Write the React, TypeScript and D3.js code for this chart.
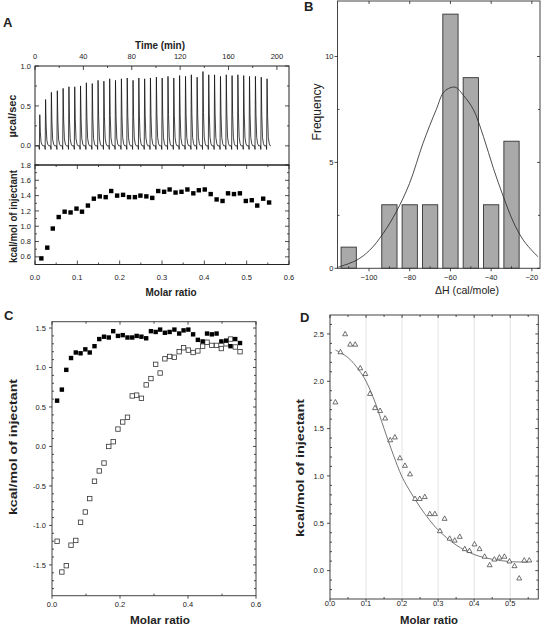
import React from 'react';
import * as d3 from 'd3';

const FONT = "'Liberation Sans', Arial, Helvetica, sans-serif";
const INK = '#222';

// Panel A (top): raw ITC trace
const injectionTimes = [3.6, 8.4, 13.2, 18.1, 22.9, 27.7, 32.5, 37.3, 42.1, 47.0, 51.8, 56.6, 61.4, 66.2, 71.1, 75.9, 80.7, 85.5, 90.3, 95.1, 100.0, 104.8, 109.6, 114.4, 119.2, 124.1, 128.9, 133.7, 138.5, 143.3, 148.1, 153.0, 157.8, 162.6, 167.4, 172.2, 177.0, 181.9, 186.7, 191.5];
const spikePeaks = [0.39, 0.58, 0.67, 0.69, 0.72, 0.74, 0.74, 0.75, 0.79, 0.78, 0.82, 0.81, 0.84, 0.82, 0.84, 0.85, 0.82, 0.85, 0.84, 0.85, 0.86, 0.85, 0.87, 0.85, 0.88, 0.87, 0.89, 0.86, 0.93, 0.89, 0.89, 0.87, 0.89, 0.88, 0.89, 0.88, 0.87, 0.87, 0.86, 0.84];
const timeTicks = [0, 40, 80, 120, 160, 200];
const timeMinor = [20, 60, 100, 140, 180];
const powerTicks = [0.0, 0.5, 1.0];
const powerMinor = [0.25, 0.75];

// Integrated heats
const molarRatio = [0.015, 0.029, 0.042, 0.056, 0.070, 0.084, 0.098, 0.111, 0.125, 0.139, 0.153, 0.167, 0.180, 0.194, 0.208, 0.222, 0.236, 0.249, 0.263, 0.277, 0.291, 0.305, 0.318, 0.332, 0.346, 0.360, 0.374, 0.387, 0.401, 0.415, 0.429, 0.443, 0.456, 0.470, 0.484, 0.498, 0.512, 0.525, 0.539, 0.553];
const heatFilled = [0.58, 0.72, 0.97, 1.12, 1.19, 1.18, 1.23, 1.19, 1.27, 1.36, 1.39, 1.38, 1.46, 1.40, 1.41, 1.38, 1.38, 1.40, 1.39, 1.37, 1.46, 1.45, 1.48, 1.44, 1.45, 1.48, 1.43, 1.47, 1.48, 1.42, 1.35, 1.33, 1.43, 1.42, 1.43, 1.33, 1.34, 1.27, 1.36, 1.31];
const heatOpen = [-1.20, -1.59, -1.51, -1.25, -1.19, -0.96, -0.83, -0.66, -0.44, -0.31, -0.21, 0.00, 0.06, 0.22, 0.31, 0.37, 0.64, 0.65, 0.61, 0.78, 0.86, 1.04, 0.93, 1.11, 1.14, 1.13, 1.20, 1.25, 1.22, 1.19, 1.21, 1.27, 1.32, 1.28, 1.28, 1.24, 1.30, 1.36, 1.26, 1.20];
const heatNet = [1.78, 2.31, 2.50, 2.39, 2.39, 2.14, 2.08, 1.87, 1.72, 1.69, 1.61, 1.38, 1.41, 1.19, 1.11, 1.02, 0.76, 0.76, 0.78, 0.60, 0.60, 0.42, 0.55, 0.34, 0.32, 0.36, 0.23, 0.21, 0.28, 0.23, 0.15, 0.06, 0.12, 0.14, 0.15, 0.10, 0.05, -0.08, 0.11, 0.11];
const fitDx = [0.015, 0.05, 0.08, 0.1, 0.125, 0.15, 0.175, 0.2, 0.225, 0.25, 0.275, 0.3, 0.35, 0.4, 0.45, 0.5, 0.55];
const fitDy = [2.33, 2.25, 2.12, 2.0, 1.78, 1.50, 1.23, 0.99, 0.82, 0.67, 0.54, 0.43, 0.27, 0.17, 0.12, 0.095, 0.09];

const aHeatTicks = [0.6, 0.8, 1.0, 1.2, 1.4, 1.6, 1.8];
const aHeatMinor = [0.7, 0.9, 1.1, 1.3, 1.5, 1.7];
const aRatioTicks = [0, 0.1, 0.2, 0.3, 0.4, 0.5, 0.6];
const aRatioMinor = [0.05, 0.15, 0.25, 0.35, 0.45, 0.55];

// Panel B: histogram
const histCenters = [-110, -90, -80, -70, -60, -50, -40, -30];
const histCounts = [1, 3, 3, 3, 12, 9, 3, 6];
const gaussX = [-115.2, -113.6, -106.2, -99.7, -93.1, -86.6, -80.1, -73.5, -67, -62.9, -57.7, -53.5, -48.7, -43.8, -38.9, -34, -29.1, -24.2, -19.3, -16.9];
const gaussY = [0.05, 0.10, 0.38, 0.85, 1.64, 2.67, 4.01, 5.9, 7.49, 8.36, 8.55, 8.15, 7.49, 6.22, 4.72, 3.38, 2.19, 1.33, 0.77, 0.54];
const dhTicks = [-100, -80, -60, -40, -20];
const dhMinor = [-110, -90, -70, -50, -30];
const freqTicks = [0, 5, 10];
const freqMinor = [2.5, 7.5];

// Panel C / D ticks
const cRatioTicks = [0, 0.2, 0.4, 0.6];
const cRatioMinor = [0.1, 0.3, 0.5];
const cHeatTicks = [-1.5, -1.0, -0.5, 0.0, 0.5, 1.0, 1.5];
const cHeatMinor = [-1.8, -1.7, -1.6, -1.4, -1.3, -1.2, -1.1, -0.9, -0.8, -0.7, -0.6, -0.4, -0.3, -0.2, -0.1, 0.1, 0.2, 0.3, 0.4, 0.6, 0.7, 0.8, 0.9, 1.1, 1.2, 1.3, 1.4];
const dRatioTicks = [0, 0.1, 0.2, 0.3, 0.4, 0.5];
const dRatioMinor = [0.05, 0.15, 0.25, 0.35, 0.45, 0.55];
const dHeatTicks = [0.0, 0.5, 1.0, 1.5, 2.0, 2.5];
const dHeatMinor = [-0.2, -0.1, 0.1, 0.2, 0.3, 0.4, 0.6, 0.7, 0.8, 0.9, 1.1, 1.2, 1.3, 1.4, 1.6, 1.7, 1.8, 1.9, 2.1, 2.2, 2.3, 2.4, 2.6];

type Scale = d3.ScaleLinear<number, number>;

function VTicks({ s, vals, x, len, k }: { s: Scale; vals: number[]; x: number; len: number; k: string }) {
  return (
    <g stroke={INK} strokeWidth={0.8}>
      {vals.map((v, i) => (
        <line key={k + i} x1={x} x2={x + len} y1={s(v)} y2={s(v)} />
      ))}
    </g>
  );
}
function HTicks({ s, vals, y, len, k }: { s: Scale; vals: number[]; y: number; len: number; k: string }) {
  return (
    <g stroke={INK} strokeWidth={0.8}>
      {vals.map((v, i) => (
        <line key={k + i} y1={y} y2={y + len} x1={s(v)} x2={s(v)} />
      ))}
    </g>
  );
}
function VLabels({ s, vals, x, fmt }: { s: Scale; vals: number[]; x: number; fmt: (v: number) => string }) {
  return (
    <g fontSize={7.5} fill={INK} textAnchor="end" fontFamily={FONT}>
      {vals.map((v, i) => (
        <text key={i} x={x} y={s(v)} dy="0.35em">{fmt(v)}</text>
      ))}
    </g>
  );
}
function HLabels({ s, vals, y, fmt }: { s: Scale; vals: number[]; y: number; fmt: (v: number) => string }) {
  return (
    <g fontSize={7.5} fill={INK} textAnchor="middle" fontFamily={FONT}>
      {vals.map((v, i) => (
        <text key={i} x={s(v)} y={y}>{fmt(v)}</text>
      ))}
    </g>
  );
}
function VTitle({ x, y, text, len, size, bold }: { x: number; y: number; text: string; len: number; size: number; bold?: boolean }) {
  return (
    <text transform={`translate(${x},${y}) rotate(-90)`} textAnchor="middle" fontSize={size} fontWeight={bold ? 'bold' : 'normal'} fontFamily={FONT} fill={INK} textLength={len} lengthAdjust="spacingAndGlyphs">{text}</text>
  );
}
function HTitle({ x, y, text, len, size, bold }: { x: number; y: number; text: string; len: number; size: number; bold?: boolean }) {
  return (
    <text x={x} y={y} textAnchor="middle" fontSize={size} fontWeight={bold ? 'bold' : 'normal'} fontFamily={FONT} fill={INK} textLength={len} lengthAdjust="spacingAndGlyphs">{text}</text>
  );
}

const f1 = (v: number) => v.toFixed(1);
const fInt = (v: number) => String(v);
const fMinus = (v: number) => (v < 0 ? '\u2212' + Math.abs(v) : String(v));

export default function App() {
  // Panel A scales
  const xT = d3.scaleLinear().domain([0, 210]).range([35, 289]);
  const yT = d3.scaleLinear().domain([-0.24, 1.0]).range([165, 66]);
  const xA = d3.scaleLinear().domain([0, 0.6]).range([35, 289]);
  const yA = d3.scaleLinear().domain([0.5, 1.8]).range([264.5, 165]);
  // Panel B
  const xB = d3.scaleLinear().domain([-115.5, -16]).range([337.5, 540]);
  const yB = d3.scaleLinear().domain([0, 12.62]).range([268.3, 1]);
  // Panel C
  const xC = d3.scaleLinear().domain([0, 0.6]).range([52, 256]);
  const yC = d3.scaleLinear().domain([-1.89, 1.58]).range([595.7, 321.7]);
  // Panel D
  const xD = d3.scaleLinear().domain([0, 0.578]).range([330, 538.3]);
  const yD = d3.scaleLinear().domain([-0.3, 2.7]).range([599, 315]);

  // raw trace
  const trace: [number, number][] = [[0.5, 0]];
  injectionTimes.forEach((t, i) => {
    const p = spikePeaks[i];
    trace.push([t - 0.3, 0], [t, -0.045], [t + 0.35, p], [t + 0.8, p * 0.45], [t + 1.4, p * 0.12], [t + 2.2, p * 0.03], [t + 3.0, 0]);
  });
  trace.push([195, 0]);
  const traceLine = d3.line<[number, number]>().x(d => xT(d[0])).y(d => yT(d[1]))(trace) || '';

  const gaussLine = d3.line<number>().x((_, i) => xB(gaussX[i])).y(d => yB(d)).curve(d3.curveCatmullRom)(gaussY) || '';
  const fitLine = d3.line<number>().x((_, i) => xD(fitDx[i])).y(d => yD(d)).curve(d3.curveCatmullRom)(fitDy) || '';

  const sq = 4.4;
  const tri = (cx: number, cy: number, r: number) => `M${cx},${cy - r}L${cx + r * 0.95},${cy + r * 0.7}L${cx - r * 0.95},${cy + r * 0.7}Z`;

  const barW = 7.5;

  return (
    <svg width={542} height={626} style={{ display: 'block', position: 'absolute', left: 0, top: 0 }} fontFamily={FONT}>
      <rect x={0} y={0} width={542} height={626} fill="#fff" />

      {/* ---------------- Panel A ---------------- */}
      <text x={3} y={27} fontSize={13} fontWeight="bold" fontFamily={FONT} fill={INK}>A</text>
      <HTitle x={160} y={48.5} text="Time (min)" len={50} size={10} bold />
      <HLabels s={xT} vals={timeTicks} y={59} fmt={fInt} />
      <rect x={35} y={66} width={254} height={99} fill="none" stroke={INK} strokeWidth={1} />
      <HTicks s={xT} vals={timeTicks} y={66} len={4} k="tt" />
      <HTicks s={xT} vals={timeMinor} y={66} len={2} k="tm" />
      <VTicks s={yT} vals={powerTicks} x={35} len={4} k="pl" />
      <VTicks s={yT} vals={powerMinor} x={35} len={2} k="plm" />
      <VTicks s={yT} vals={powerTicks} x={289} len={-4} k="pr" />
      <VTicks s={yT} vals={powerMinor} x={289} len={-2} k="prm" />
      <VLabels s={yT} vals={powerTicks} x={31} fmt={f1} />
      <path d={traceLine} fill="none" stroke="#111" strokeWidth={0.8} />
      <VTitle x={16} y={116} text="µcal/sec" len={43} size={10} bold />

      <rect x={35} y={165} width={254} height={99.5} fill="none" stroke={INK} strokeWidth={1} />
      <VTicks s={yA} vals={aHeatTicks} x={35} len={4} k="al" />
      <VTicks s={yA} vals={aHeatMinor} x={35} len={2} k="alm" />
      <VTicks s={yA} vals={aHeatTicks} x={289} len={-4} k="ar" />
      <VTicks s={yA} vals={aHeatMinor} x={289} len={-2} k="arm" />
      <HTicks s={xA} vals={aRatioTicks} y={264.5} len={-4} k="ab" />
      <HTicks s={xA} vals={aRatioMinor} y={264.5} len={-2} k="abm" />
      <HTicks s={xA} vals={aRatioTicks} y={165} len={4} k="at" />
      <HTicks s={xA} vals={aRatioMinor} y={165} len={2} k="atm" />
      <VLabels s={yA} vals={aHeatTicks} x={31} fmt={f1} />
      <HLabels s={xA} vals={aRatioTicks} y={279.5} fmt={f1} />
      <g fill="#000">
        {heatFilled.map((v, i) => (
          <rect key={i} x={xA(molarRatio[i]) - sq / 2} y={yA(v) - sq / 2} width={sq} height={sq} />
        ))}
      </g>
      <VTitle x={16.5} y={216.5} text="kcal/mol of injectant" len={93} size={10} bold />
      <HTitle x={171} y={295.5} text="Molar  ratio" len={51} size={10} bold />

      {/* ---------------- Panel B ---------------- */}
      <text x={304} y={11} fontSize={13} fontWeight="bold" fontFamily={FONT} fill={INK}>B</text>
      <g>
        {histCounts.map((c, i) => (
          <rect key={i} x={xB(histCenters[i] - barW / 2)} y={yB(c)} width={xB(histCenters[i] + barW / 2) - xB(histCenters[i] - barW / 2)} height={yB(0) - yB(c)} fill="#a9a9a9" stroke="#333" strokeWidth={0.9} />
        ))}
      </g>
      <path d={gaussLine} fill="none" stroke="#222" strokeWidth={0.8} />
      <rect x={337.5} y={1} width={202.5} height={267.3} fill="none" stroke="#444" strokeWidth={1} />
      <VTicks s={yB} vals={freqTicks} x={337.5} len={-3} k="bl" />
      <VTicks s={yB} vals={freqMinor} x={337.5} len={2} k="blm" />
      <VTicks s={yB} vals={freqTicks} x={540} len={-3} k="br" />
      <VTicks s={yB} vals={freqMinor} x={540} len={-2} k="brm" />
      <HTicks s={xB} vals={dhTicks} y={268.3} len={3} k="bb" />
      <HTicks s={xB} vals={dhMinor} y={268.3} len={-2} k="bbm" />
      <HTicks s={xB} vals={dhTicks} y={1} len={3} k="bt" />
      <VLabels s={yB} vals={freqTicks} x={333.5} fmt={fInt} />
      <HLabels s={xB} vals={dhTicks} y={279.5} fmt={fMinus} />
      <VTitle x={321} y={112} text="Frequency" len={57} size={12} />
      <HTitle x={467} y={293.5} text="ΔH (cal/mole)" len={64} size={11} />

      {/* ---------------- Panel C ---------------- */}
      <text x={4} y={320} fontSize={13} fontWeight="bold" fontFamily={FONT} fill={INK}>C</text>
      <rect x={52} y={321.7} width={204} height={274} fill="none" stroke="#444" strokeWidth={1} />
      <VTicks s={yC} vals={cHeatTicks} x={52} len={-3} k="cl" />
      <VTicks s={yC} vals={cHeatTicks} x={256} len={-3} k="cr" />
      <VTicks s={yC} vals={cHeatMinor} x={256} len={-2} k="crm" />
      <VTicks s={yC} vals={cHeatMinor} x={52} len={2} k="clm" />
      <HTicks s={xC} vals={cRatioTicks} y={595.7} len={3} k="cb" />
      <HTicks s={xC} vals={cRatioMinor} y={595.7} len={-2} k="cbm" />
      <HTicks s={xC} vals={cRatioTicks} y={321.7} len={3} k="ct" />
      <HTicks s={xC} vals={cRatioMinor} y={321.7} len={2} k="ctm" />
      <VLabels s={yC} vals={cHeatTicks} x={46} fmt={f1} />
      <HLabels s={xC} vals={cRatioTicks} y={607} fmt={f1} />
      <g fill="#fff" stroke="#333" strokeWidth={0.8}>
        {heatOpen.map((v, i) => (
          <rect key={i} x={xC(molarRatio[i]) - sq / 2} y={yC(v) - sq / 2} width={sq} height={sq} />
        ))}
      </g>
      <g fill="#000">
        {heatFilled.map((v, i) => (
          <rect key={i} x={xC(molarRatio[i]) - sq / 2} y={yC(v) - sq / 2} width={sq} height={sq} />
        ))}
      </g>
      <VTitle x={17} y={447} text="kcal/mol of injectant" len={136} size={11.5} bold />
      <HTitle x={160} y={624} text="Molar  ratio" len={60} size={11} bold />

      {/* ---------------- Panel D ---------------- */}
      <text x={300} y={322} fontSize={13} fontWeight="bold" fontFamily={FONT} fill={INK}>D</text>
      <g stroke="#dcdcdc" strokeWidth={0.8}>
        {dRatioTicks.filter(v => v > 0).map((v, i) => (
          <line key={i} x1={xD(v)} x2={xD(v)} y1={315} y2={599} />
        ))}
      </g>
      <rect x={330} y={315} width={208.3} height={284} fill="none" stroke="#444" strokeWidth={1} />
      <VTicks s={yD} vals={dHeatTicks} x={330} len={-3} k="dl" />
      <VTicks s={yD} vals={dHeatMinor} x={330} len={2} k="dlm" />
      <VTicks s={yD} vals={dHeatTicks} x={538.3} len={-3} k="dr" />
      <VTicks s={yD} vals={dHeatMinor} x={538.3} len={-2} k="drm" />
      <HTicks s={xD} vals={dRatioTicks} y={599} len={3} k="db" />
      <HTicks s={xD} vals={dRatioMinor} y={599} len={-2} k="dbm" />
      <HTicks s={xD} vals={dRatioTicks} y={315} len={3} k="dt" />
      <HTicks s={xD} vals={dRatioMinor} y={315} len={2} k="dtm" />
      <VLabels s={yD} vals={dHeatTicks} x={324} fmt={f1} />
      <HLabels s={xD} vals={dRatioTicks} y={606} fmt={f1} />
      <path d={fitLine} fill="none" stroke="#666" strokeWidth={0.9} />
      <g fill="#fff" stroke="#333" strokeWidth={0.7}>
        {heatNet.map((v, i) => (
          <path key={i} d={tri(xD(molarRatio[i]), yD(v), 2.6)} />
        ))}
      </g>
      <VTitle x={304} y={468} text="kcal/mol of injectant" len={138} size={11.5} bold />
      <HTitle x={429} y={624} text="Molar  ratio" len={58} size={11} bold />
    </svg>
  );
}
